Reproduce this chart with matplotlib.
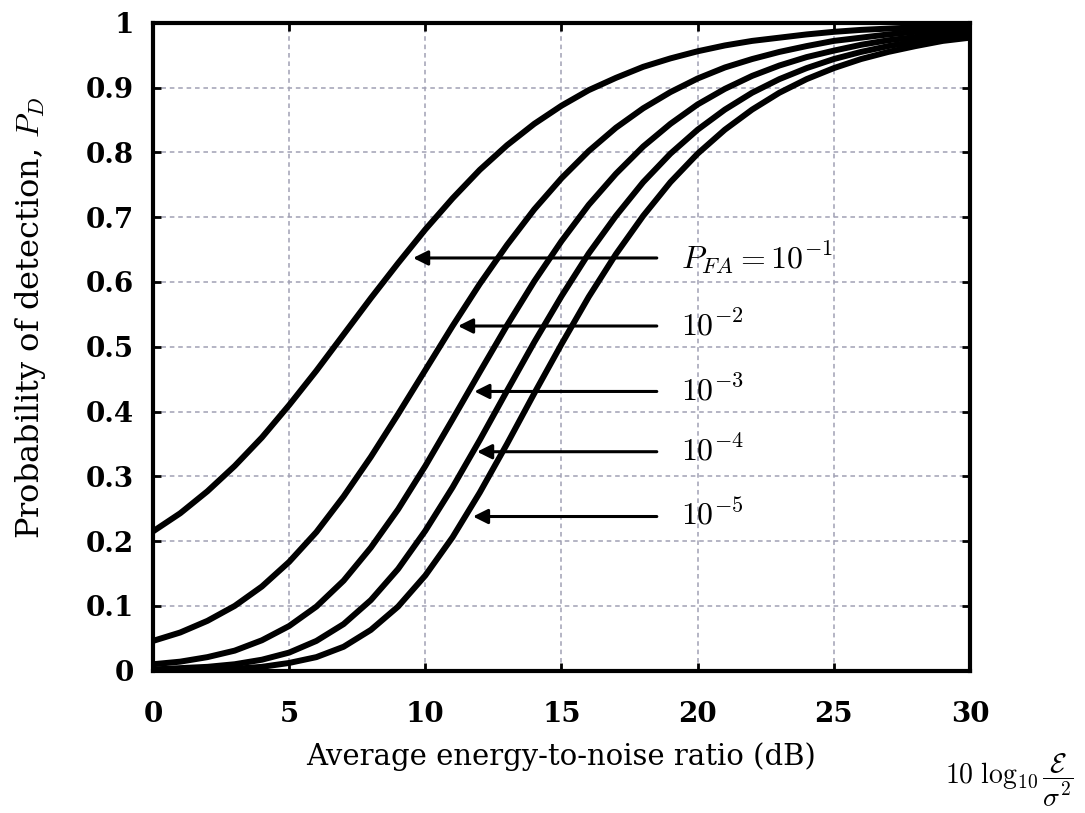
import matplotlib
matplotlib.use("Agg")
import matplotlib.pyplot as plt

plt.rcParams['font.family'] = ['DejaVu Serif']
plt.rcParams['mathtext.fontset'] = 'cm'

# average energy-to-noise ratio, dB
snr_db = list(range(0, 31))

# probability of detection, one list per false-alarm level
pd_1e1 = [0.215, 0.243, 0.277, 0.316, 0.360, 0.410, 0.463, 0.519, 0.575, 0.629,
          0.681, 0.729, 0.773, 0.811, 0.844, 0.872, 0.896, 0.915, 0.932, 0.945,
          0.956, 0.965, 0.972, 0.977, 0.982, 0.986, 0.989, 0.991, 0.993, 0.994, 0.995]
pd_1e2 = [0.046, 0.059, 0.077, 0.100, 0.130, 0.168, 0.214, 0.269, 0.330, 0.396,
          0.464, 0.532, 0.597, 0.657, 0.712, 0.760, 0.802, 0.838, 0.868, 0.893,
          0.914, 0.931, 0.944, 0.955, 0.964, 0.972, 0.977, 0.982, 0.986, 0.989, 0.991]
pd_1e3 = [0.010, 0.014, 0.021, 0.031, 0.047, 0.069, 0.099, 0.139, 0.190, 0.249,
          0.316, 0.388, 0.461, 0.533, 0.601, 0.663, 0.719, 0.767, 0.809, 0.844,
          0.874, 0.898, 0.918, 0.934, 0.947, 0.957, 0.966, 0.973, 0.978, 0.983, 0.986]
pd_1e4 = [0.002, 0.004, 0.006, 0.010, 0.017, 0.028, 0.046, 0.072, 0.109, 0.157,
          0.216, 0.283, 0.356, 0.432, 0.507, 0.578, 0.644, 0.702, 0.754, 0.798,
          0.835, 0.866, 0.892, 0.913, 0.930, 0.944, 0.955, 0.964, 0.971, 0.977, 0.982]
pd_1e5 = [0.000, 0.001, 0.002, 0.003, 0.006, 0.012, 0.021, 0.037, 0.063, 0.099,
          0.147, 0.206, 0.275, 0.350, 0.428, 0.504, 0.577, 0.643, 0.702, 0.754,
          0.798, 0.835, 0.866, 0.892, 0.913, 0.930, 0.944, 0.955, 0.964, 0.972, 0.977]
curves = [pd_1e1, pd_1e2, pd_1e3, pd_1e4, pd_1e5]

# labels and where the arrows point (x of tip, y)
pfa_labels = [r'$P_{FA} = 10^{-1}$', r'$10^{-2}$', r'$10^{-3}$', r'$10^{-4}$', r'$10^{-5}$']
arrow_tip_x = [9.55, 11.2, 11.8, 11.9, 11.75]
arrow_y = [0.637, 0.532, 0.431, 0.338, 0.238]

x_ticks = [0, 5, 10, 15, 20, 25, 30]
y_ticks = [0, 0.1, 0.2, 0.3, 0.4, 0.5, 0.6, 0.7, 0.8, 0.9, 1]
y_tick_labels = ['0', '0.1', '0.2', '0.3', '0.4', '0.5', '0.6', '0.7', '0.8', '0.9', '1']

fig = plt.figure(figsize=(10.85, 8.13), dpi=100)
ax = fig.add_axes([0.141, 0.175, 0.753, 0.797])

for pd in curves:
    ax.plot(snr_db, pd, color='black', lw=4.3, solid_capstyle='butt',
            solid_joinstyle='round')

for lab, tx, ty in zip(pfa_labels, arrow_tip_x, arrow_y):
    ax.annotate('', xy=(tx, ty), xytext=(18.5, ty),
                arrowprops=dict(arrowstyle='-|>', color='black', lw=2.2,
                                mutation_scale=22, shrinkA=0, shrinkB=0))
    ax.text(19.4, ty, lab, fontsize=23, va='center', ha='left')

ax.set_xlim(0, 30)
ax.set_ylim(0, 1)
ax.set_xticks(x_ticks)
ax.set_xticklabels([str(t) for t in x_ticks])
ax.set_yticks(y_ticks)
ax.set_yticklabels(y_tick_labels)
ax.tick_params(direction='in', length=6, width=2, labelsize=20, pad=14,
               top=True, right=True)
ax.tick_params(axis='x', pad=22)
for lbl in ax.get_xticklabels() + ax.get_yticklabels():
    lbl.set_fontweight('bold')

ax.grid(True, color='#a0a0b4', lw=1.1, ls=(0, (3, 2.5)))
for sp in ax.spines.values():
    sp.set_linewidth(3)

ax.set_xlabel('Average energy-to-noise ratio (dB)', fontsize=21, labelpad=10)
ax.set_ylabel('Probability of detection, $P_D$', fontsize=23, labelpad=12)
ax.yaxis.set_label_coords(-0.128, 0.545)

fig.text(0.99, 0.04, r'$10\ \log_{10} \dfrac{\mathcal{E}}{\sigma^2}$',
         fontsize=20, ha='right', va='center')

fig.savefig('out.png', dpi=100, facecolor='white')
